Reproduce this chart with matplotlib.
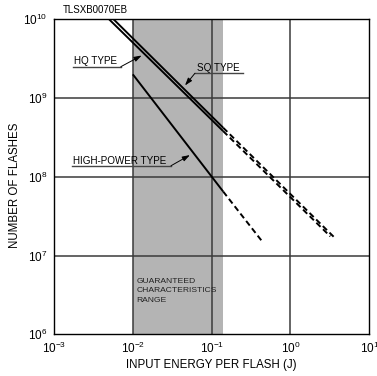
import matplotlib
matplotlib.use("Agg")
import matplotlib.pyplot as plt
from matplotlib.ticker import LogLocator, LogFormatterSciNotation, NullLocator

plt.rcParams['font.family'] = ['Liberation Sans', 'DejaVu Sans']
plt.rcParams['mathtext.fontset'] = 'custom'
plt.rcParams['mathtext.rm'] = 'Liberation Sans'
plt.rcParams['mathtext.it'] = 'Liberation Sans:italic'
plt.rcParams['mathtext.bf'] = 'Liberation Sans:bold'
plt.rcParams['axes.unicode_minus'] = False

# ---- data ----
band_range = [0.01, 0.14]           # guaranteed characteristics range (J)

hq_solid_x = [0.0050, 0.14]
hq_solid_y = [1.0e10, 3.8e8]
hq_dash_x = [0.14, 3.2]
hq_dash_y = [3.8e8, 1.75e7]

sq_solid_x = [0.0057, 0.14]
sq_solid_y = [1.0e10, 4.2e8]
sq_dash_x = [0.14, 3.6]
sq_dash_y = [4.2e8, 1.7e7]

hp_solid_x = [0.01, 0.14]
hp_solid_y = [2.0e9, 6.5e7]
hp_dash_x = [0.14, 0.44]
hp_dash_y = [6.5e7, 1.5e7]

xlim = [1e-3, 1e1]
ylim = [1e6, 1e10]

fig = plt.figure(figsize=(3.77, 3.76), dpi=100)
ax = fig.add_axes([0.1432, 0.1109, 0.8364, 0.8378])

ax.axvspan(band_range[0], band_range[1], color='#b4b4b4', zorder=0, lw=0)

ax.set_xscale('log')
ax.set_yscale('log')
ax.set_xlim(xlim)
ax.set_ylim(ylim)

for v in [1e-2, 1e-1, 1e0]:
    ax.axvline(v, color='#3a3a3a', lw=1.1, zorder=1)
for v in [1e7, 1e8, 1e9]:
    ax.axhline(v, color='#3a3a3a', lw=1.1, zorder=1)

lw = 1.4
dash = (0, (3.0, 1.8))
ax.plot(hq_solid_x, hq_solid_y, color='black', lw=lw, zorder=3, solid_capstyle='butt')
ax.plot(hq_dash_x, hq_dash_y, color='black', lw=lw, ls=dash, zorder=3)
ax.plot(sq_solid_x, sq_solid_y, color='black', lw=lw, zorder=3, solid_capstyle='butt')
ax.plot(sq_dash_x, sq_dash_y, color='black', lw=lw, ls=dash, zorder=3)
ax.plot(hp_solid_x, hp_solid_y, color='black', lw=lw, zorder=3, solid_capstyle='butt')
ax.plot(hp_dash_x, hp_dash_y, color='black', lw=lw, ls=dash, zorder=3)

ax.xaxis.set_major_locator(LogLocator(base=10, numticks=10))
ax.yaxis.set_major_locator(LogLocator(base=10, numticks=10))
ax.xaxis.set_minor_locator(NullLocator())
ax.yaxis.set_minor_locator(NullLocator())
ax.xaxis.set_major_formatter(LogFormatterSciNotation())
ax.yaxis.set_major_formatter(LogFormatterSciNotation())
ax.tick_params(axis='both', which='major', length=0, labelsize=8.5, pad=5)
for s in ax.spines.values():
    s.set_linewidth(1.0)
    s.set_color('black')
    s.set_zorder(5)

# labels with underline + arrow
def label(text, tx, ty, ux0, ux1, uy, start, tip):
    ax.text(tx, ty, text, transform=ax.transAxes, fontsize=7.1,
            ha='left', va='center', zorder=6)
    ax.plot([ux0, ux1], [uy, uy], transform=ax.transAxes, color='#444444',
            lw=1.0, zorder=6, clip_on=False)
    ax.annotate('', xy=tip, xycoords='axes fraction', xytext=start,
                textcoords='axes fraction',
                arrowprops=dict(arrowstyle='-|>,head_length=0.45,head_width=0.15',
                                color='black', lw=0.7, shrinkA=0, shrinkB=0),
                zorder=6)

label('HQ TYPE', 0.063, 0.868, 0.060, 0.212, 0.8495, (0.212, 0.8495), (0.278, 0.885))
label('SQ TYPE', 0.453, 0.844, 0.447, 0.599, 0.8286, (0.447, 0.8286), (0.4155, 0.790))
label('HIGH-POWER TYPE', 0.061, 0.551, 0.057, 0.371, 0.535, (0.371, 0.535), (0.431, 0.569))

ax.text(0.262, 0.138, 'GUARANTEED\nCHARACTERISTICS\nRANGE', transform=ax.transAxes,
        fontsize=6.1, ha='left', va='center', linespacing=1.45, color='#222222', zorder=6)

fig.text(0.167, 0.973, 'TLSXB0070EB', fontsize=7, ha='left', va='center')
fig.text(0.040, 0.508, 'NUMBER OF FLASHES', rotation=90, fontsize=8.3,
         ha='center', va='center')
fig.text(0.561, 0.029, 'INPUT ENERGY PER FLASH (J)', fontsize=8.3,
         ha='center', va='center')

fig.savefig('out.png', dpi=100)
